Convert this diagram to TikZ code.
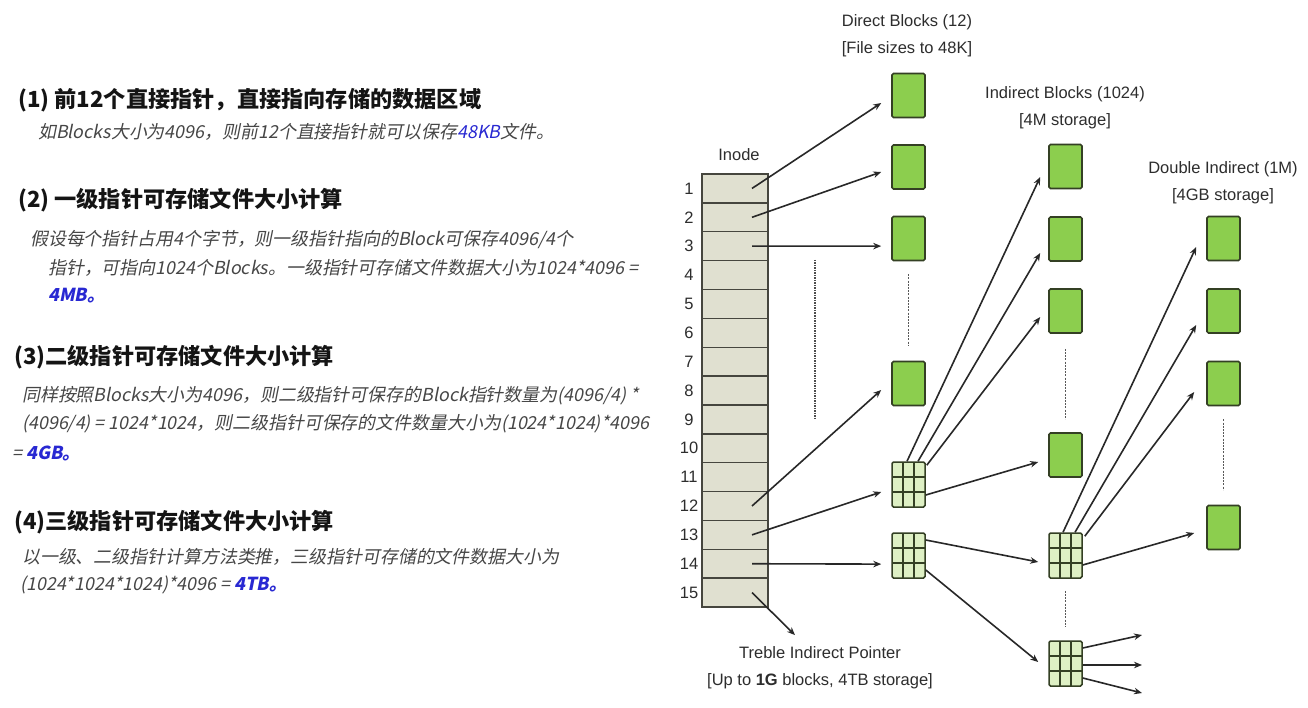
\documentclass[tikz,border=0pt]{standalone}
\usepackage{fontspec}
\setmainfont{Liberation Sans}
\newfontfamily\cjk{Noto Sans CJK SC}
\newfontfamily\cjkit[FakeSlant=0.2]{Noto Sans CJK SC}
\usetikzlibrary{arrows.meta,calc}
\definecolor{blkgreen}{RGB}{140,206,78}
\definecolor{blkedge}{RGB}{52,64,36}
\definecolor{cellfill}{RGB}{222,240,196}
\definecolor{inodefill}{RGB}{224,224,208}
\definecolor{inodeedge}{RGB}{70,70,62}
\definecolor{arrowc}{RGB}{40,40,40}
\definecolor{labc}{RGB}{45,45,45}
\definecolor{headc}{RGB}{20,20,20}
\definecolor{subc}{RGB}{70,70,70}
\definecolor{valblue}{RGB}{40,40,210}
\tikzset{
  blk/.style={draw=blkedge, fill=blkgreen, line width=1.6pt, rounded corners=1.5pt,
    minimum width=33pt, minimum height=44pt, inner sep=0pt},
  gridblk/.style={draw=blkedge, fill=cellfill, line width=1.5pt, rounded corners=1.5pt,
    minimum width=33pt, minimum height=45pt, inner sep=0pt,
    path picture={
      \foreach \k in {1,2}{
        \draw[blkedge, line width=1.6pt]
          ($(path picture bounding box.south west)!\k/3!(path picture bounding box.south east)$) --
          ($(path picture bounding box.north west)!\k/3!(path picture bounding box.north east)$);
        \draw[blkedge, line width=1.6pt]
          ($(path picture bounding box.south west)!\k/3!(path picture bounding box.north west)$) --
          ($(path picture bounding box.south east)!\k/3!(path picture bounding box.north east)$);
      }}},
  rowbox/.style={draw=inodeedge, fill=inodefill, line width=1.4pt,
    minimum width=66pt, minimum height=28.87pt, inner sep=0pt},
  rownum/.style={font=\fontsize{16.5}{16.5}\selectfont, text=labc, inner sep=0pt},
  lab/.style={font=\fontsize{16.5}{27}\selectfont, text=labc, align=center, inner sep=0pt},
  conn/.style={draw=arrowc, line width=1.6pt, -{Stealth[length=8pt,width=6.5pt]}},
  dashline/.style={draw=gray!70!black, line width=1.2pt, dash pattern=on 2pt off 1.2pt},
  head/.style={font=\cjk\bfseries\fontsize{22.2}{26}\selectfont, text=headc, anchor=west, inner sep=0pt},
  sub/.style={font=\cjkit\fontsize{17.9}{21}\selectfont, text=subc, anchor=west, inner sep=0pt},
}
\newcommand{\val}[1]{\textcolor{valblue}{\bfseries #1}}
\begin{document}
\begin{tikzpicture}[x=1pt,y=-1pt]
\useasboundingbox[fill=white] (0,0) rectangle (1308,708);

% ---------------- left text ----------------
\node[head] (h1) at (18,100) {(1) 前12个直接指针，直接指向存储的数据区域};
\node[sub] (s1) at (38,132) {如Blocks大小为4096，则前12个直接指针就可以保存\textcolor{valblue}{48KB}文件。};
\node[head] (h2) at (18,200) {(2) 一级指针可存储文件大小计算};
\node[sub] (s2a) at (30,240) {假设每个指针占用4个字节，则一级指针指向的Block可保存4096/4个};
\node[sub] (s2b) at (48,268) {指针，可指向1024个Blocks。一级指针可存储文件数据大小为1024*4096 =};
\node[sub] (s2c) at (48,296) {\val{4MB。}};
\node[head] (h3) at (14,357) {(3)二级指针可存储文件大小计算};
\node[sub] (s3a) at (22,396) {同样按照Blocks大小为4096，则二级指针可保存的Block指针数量为(4096/4) *};
\node[sub] (s3b) at (22,424) {(4096/4) = 1024*1024，则二级指针可保存的文件数量大小为(1024*1024)*4096};
\node[sub] (s3c) at (12,453) {= \val{4GB。}};
\node[head] (h4) at (14,522) {(4)三级指针可存储文件大小计算};
\node[sub] (s4a) at (22,557) {以一级、二级指针计算方法类推，三级指针可存储的文件数据大小为};
\node[sub] (s4b) at (20,585) {(1024*1024*1024)*4096 = \val{4TB。}};

% ---------------- inode table ----------------
\node[lab] (inodelab) at (739,155) {Inode};
\foreach \i in {1,...,15}{
  \node[rowbox] (r\i) at (735,{174+(\i-0.5)*28.87}) {};
  \node[rownum] (n\i) at (689,{174+(\i-0.5)*28.87}) {\i};
}

% ---------------- labels ----------------
\node[lab] (ldirect) at (907,36) {Direct Blocks (12)\\{}[File sizes to 48K]};
\node[lab] (lindirect) at (1065,107.5) {Indirect Blocks (1024)\\{}[4M storage]};
\node[lab] (ldouble) at (1223,182.5) {Double Indirect (1M)\\{}[4GB storage]};
\node[lab] (treb) at (820,667.5) {Treble Indirect Pointer\\{}[Up to \textbf{1G} blocks, 4TB storage]};

% ---------------- blocks ----------------
\node[blk] (d1) at (908.5,95.5) {};
\node[blk] (d2) at (908.5,167) {};
\node[blk] (d3) at (908.5,238.5) {};
\node[blk] (d4) at (908.5,383.5) {};
\node[gridblk] (g1) at (908.5,484.5) {};
\node[gridblk] (g2) at (908.5,555.5) {};

\node[blk] (i1) at (1065.5,166.5) {};
\node[blk] (i2) at (1065.5,239) {};
\node[blk] (i3) at (1065.5,311) {};
\node[blk] (i4) at (1065.5,455) {};
\node[gridblk] (g3) at (1065.5,555.5) {};
\node[gridblk] (g4) at (1065.5,663.5) {};

\node[blk] (k1) at (1223.5,238.5) {};
\node[blk] (k2) at (1223.5,311) {};
\node[blk] (k3) at (1223.5,383.5) {};
\node[blk] (k4) at (1223.5,527.5) {};

\coordinate (t1) at (1142,635);
\coordinate (t2) at (1142,665);
\coordinate (t3) at (1142,693);
\coordinate (dotA) at (815,260);
\coordinate (dotB) at (815,420);

% ---------------- dashed continuation lines ----------------
\draw[dashline] ([yshift=-13pt]d3.south) -- ([yshift=15pt]d4.north);
\draw[dashline] ([yshift=-15pt]i3.south) -- ([yshift=13pt]i4.north);
\draw[dashline] ([yshift=-12pt]g3.south) -- ([yshift=14pt]g4.north);
\draw[dashline] ([yshift=-13pt]k3.south) -- ([yshift=15pt]k4.north);
\draw[draw=gray!60!black, line width=1.1pt, dash pattern=on 1.5pt off 1pt] (dotA) -- (dotB);

% ---------------- connectors ----------------
\draw[conn] ([xshift=17pt]r1.center) -- ([xshift=-10pt,yshift=-7.5pt]d1.west);
\draw[conn] ([xshift=17pt]r2.center) -- ([xshift=-10pt,yshift=-5pt]d2.west);
\draw[conn] ([xshift=17pt]r3.center) -- ([xshift=-10pt,yshift=-7.6pt]d3.west);
\draw[conn] ([xshift=17pt]r12.center) -- ([xshift=-10pt,yshift=-6.5pt]d4.west);
\draw[conn] ([xshift=17pt]r13.center) -- ([xshift=-10pt,yshift=-7.5pt]g1.west);
\draw[conn] ([xshift=17pt]r14.center) -- ([xshift=-10pt,yshift=-8.6pt]g2.west);
\draw[conn] ([xshift=17pt]r15.center) -- ([xshift=-25pt,yshift=11pt]treb.north);

\draw[conn] ([xshift=-1.5pt]g1.north) -- ([xshift=-8pt,yshift=-10.5pt]i1.west);
\draw[conn] ([xshift=9.5pt]g1.north) -- ([xshift=-8pt,yshift=-14pt]i2.west);
\draw[conn] ([xshift=1pt,yshift=-4pt]g1.north east) -- ([xshift=-8pt,yshift=-6pt]i3.west);
\draw[conn] ([yshift=-10.5pt]g1.east) -- ([xshift=-10pt,yshift=-7pt]i4.west);
\draw[conn] ([yshift=15.5pt]g2.east) -- ([xshift=-10pt,yshift=-6.5pt]g3.west);
\draw[conn] ([yshift=-14.5pt]g2.east) -- ([xshift=-10pt,yshift=1.5pt]g4.west);

\draw[conn] ([xshift=-2.5pt]g3.north) -- ([xshift=-10pt,yshift=-8.5pt]k1.west);
\draw[conn] ([xshift=9.5pt]g3.north) -- ([xshift=-10pt,yshift=-14pt]k2.west);
\draw[conn] ([xshift=2pt,yshift=-4pt]g3.north east) -- ([xshift=-12pt,yshift=-8.5pt]k3.west);
\draw[conn] ([yshift=-9.5pt]g3.east) -- ([xshift=-12pt,yshift=-5.5pt]k4.west);

\draw[conn] ([yshift=15.5pt]g4.east) -- (t1);
\draw[conn] ([yshift=-1.5pt]g4.east) -- (t2);
\draw[conn] ([yshift=-14.5pt]g4.east) -- (t3);
\end{tikzpicture}
\end{document}
